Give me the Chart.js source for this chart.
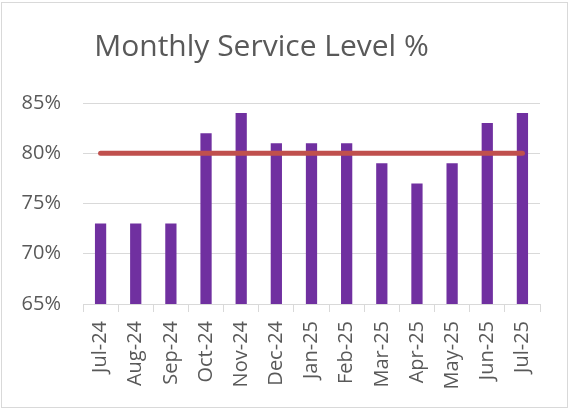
<!DOCTYPE html>
<html>
<head>
<meta charset="utf-8">
<script src="https://cdn.jsdelivr.net/npm/chart.js@4"></script>
<style>
  html, body { margin: 0; padding: 0; background: #fff; }
  #frame {
    position: absolute; left: 1px; top: 2px;
    width: 567px; height: 406px;
    border: 1px solid #d9d9d9; box-sizing: border-box;
  }
  #wrap { position: absolute; left: 0; top: 0; width: 570px; height: 410px; }
</style>
</head>
<body>
<div id="frame"></div>
<div id="wrap"><canvas id="chart" width="570" height="410"></canvas></div>
<script>
// Monthly service level vs 80% target
const months = ['Jul-24', 'Aug-24', 'Sep-24', 'Oct-24', 'Nov-24', 'Dec-24',
  'Jan-25', 'Feb-25', 'Mar-25', 'Apr-25', 'May-25', 'Jun-25', 'Jul-25'];
const serviceLevel = [73, 73, 73, 82, 84, 81, 81, 81, 79, 77, 79, 83, 84];
const target = [80, 80, 80, 80, 80, 80, 80, 80, 80, 80, 80, 80, 80];
const yTicks = [65, 70, 75, 80, 85];

const textColor = '#595959';
const gridColor = '#d9d9d9';

// title in the original sits a bit left of the plot centre
const shiftTitle = {
  id: 'shiftTitle',
  afterLayout(chart) {
    if (chart.titleBlock) {
      chart.titleBlock.left = 0;
      chart.titleBlock.right = 523;
    }
  }
};

new Chart(document.getElementById('chart'), {
  data: {
    labels: months,
    datasets: [
      {
        type: 'line',
        label: 'Target',
        data: target,
        borderColor: '#c0504d',
        borderWidth: 5,
        borderCapStyle: 'round',
        pointRadius: 0,
        order: 0,
      },
      {
        type: 'bar',
        label: 'Service Level',
        data: serviceLevel,
        backgroundColor: '#7030a0',
        categoryPercentage: 1,
        barPercentage: 0.32,
        order: 1,
      }
    ]
  },
  plugins: [shiftTitle],
  options: {
    responsive: false,
    animation: false,
    layout: { padding: { left: 0, right: 30, top: 0, bottom: 0 } },
    plugins: {
      legend: { display: false },
      tooltip: { enabled: false },
      title: {
        display: true,
        text: 'Monthly Service Level %',
        color: textColor,
        font: { family: 'Open Sans', size: 30, weight: 'normal' },
        padding: { top: 29, bottom: 38 },
      }
    },
    scales: {
      y: {
        min: yTicks[0],
        max: yTicks[yTicks.length - 1],
        afterBuildTicks: (scale) => { scale.ticks = yTicks.map(v => ({ value: v })); },
        afterFit: (scale) => { scale.width = 83; },
        ticks: {
          color: textColor,
          font: { family: 'Open Sans', size: 20 },
          padding: 22,
          callback: v => v + '%',
        },
        grid: { color: gridColor, drawTicks: false },
        border: { display: false },
      },
      x: {
        afterFit: (scale) => { scale.height = 106; },
        ticks: {
          color: textColor,
          font: { family: 'Open Sans', size: 20 },
          minRotation: 90,
          maxRotation: 90,
          padding: 9,
        },
        grid: { color: gridColor, drawOnChartArea: false, tickLength: 8, offset: true },
        border: { color: gridColor },
      }
    }
  }
});
</script>
</body>
</html>
